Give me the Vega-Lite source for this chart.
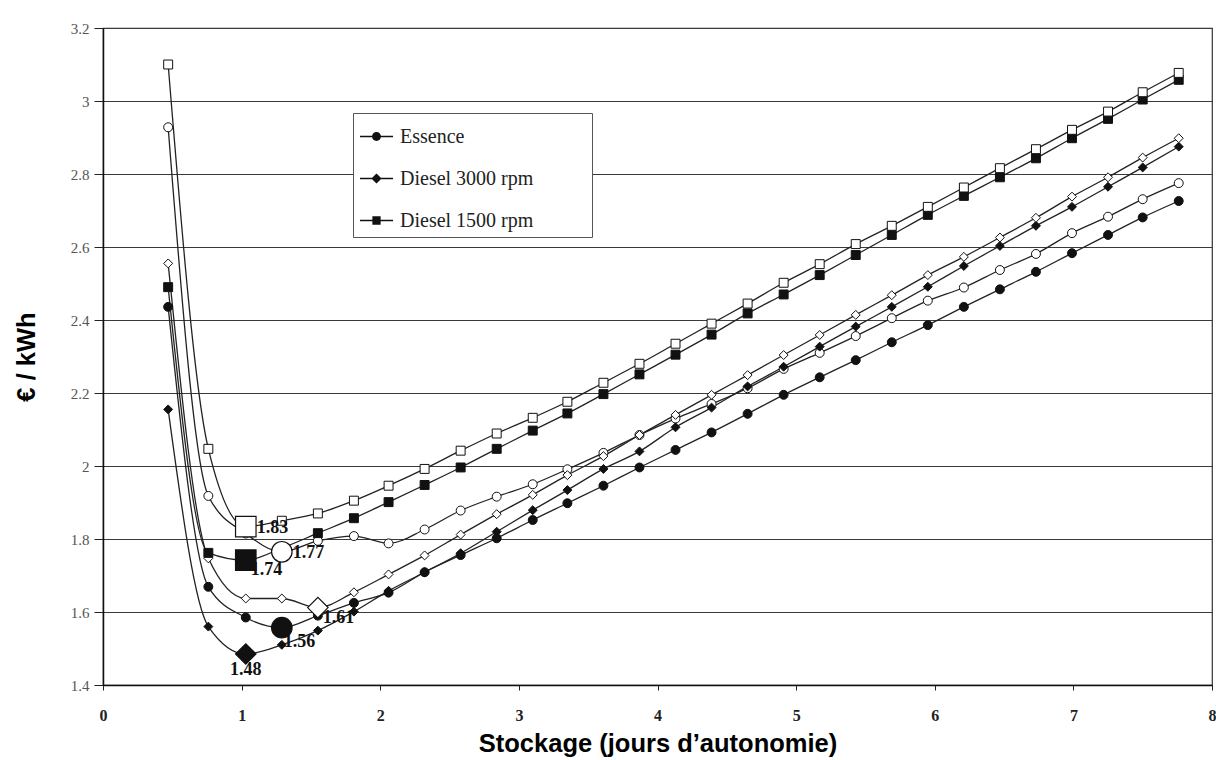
{
  "$schema": "https://vega.github.io/schema/vega-lite/v6.json",
  "width": 1109,
  "height": 657,
  "autosize": {"type": "none"},
  "padding": {"left": 103, "top": 28, "right": 4, "bottom": 75},
  "background": "#ffffff",
  "config": {
    "view": {"stroke": "#333", "strokeWidth": 1.2},
    "axis": {"domainColor": "#111", "domainWidth": 1.5, "tickColor": "#222", "labelFont": "Liberation Serif", "titleFont": "Liberation Sans", "titleFontWeight": "bold", "titleFontSize": 25.5, "titleColor": "#000"},
    "legend": {"labelFont": "Liberation Serif", "labelFontSize": 20, "labelColor": "#222"}
  },
  "resolve": {"scale": {"shape": "independent"}, "legend": {"shape": "independent"}},
  "datasets": {
    "series": [
      {"s":"Essence","f":"plein","x":0.47,"y":2.436},{"s":"Essence","f":"plein","x":0.76,"y":1.669},{"s":"Essence","f":"plein","x":1.03,"y":1.585},{"s":"Essence","f":"plein","x":1.29,"y":1.557},{"s":"Essence","f":"plein","x":1.55,"y":1.59},{"s":"Essence","f":"plein","x":1.81,"y":1.625},{"s":"Essence","f":"plein","x":2.06,"y":1.653},{"s":"Essence","f":"plein","x":2.32,"y":1.709},{"s":"Essence","f":"plein","x":2.58,"y":1.756},{"s":"Essence","f":"plein","x":2.84,"y":1.802},{"s":"Essence","f":"plein","x":3.1,"y":1.852},{"s":"Essence","f":"plein","x":3.35,"y":1.898},{"s":"Essence","f":"plein","x":3.61,"y":1.946},{"s":"Essence","f":"plein","x":3.87,"y":1.996},{"s":"Essence","f":"plein","x":4.13,"y":2.044},{"s":"Essence","f":"plein","x":4.39,"y":2.092},{"s":"Essence","f":"plein","x":4.65,"y":2.143},{"s":"Essence","f":"plein","x":4.91,"y":2.195},{"s":"Essence","f":"plein","x":5.17,"y":2.243},{"s":"Essence","f":"plein","x":5.43,"y":2.29},{"s":"Essence","f":"plein","x":5.69,"y":2.339},{"s":"Essence","f":"plein","x":5.95,"y":2.386},{"s":"Essence","f":"plein","x":6.21,"y":2.436},{"s":"Essence","f":"plein","x":6.47,"y":2.484},{"s":"Essence","f":"plein","x":6.73,"y":2.532},{"s":"Essence","f":"plein","x":6.99,"y":2.583},{"s":"Essence","f":"plein","x":7.25,"y":2.633},{"s":"Essence","f":"plein","x":7.5,"y":2.681},{"s":"Essence","f":"plein","x":7.76,"y":2.726},
      {"s":"Essence","f":"vide","x":0.47,"y":2.928},{"s":"Essence","f":"vide","x":0.76,"y":1.918},{"s":"Essence","f":"vide","x":1.03,"y":1.815},{"s":"Essence","f":"vide","x":1.29,"y":1.765},{"s":"Essence","f":"vide","x":1.55,"y":1.795},{"s":"Essence","f":"vide","x":1.81,"y":1.808},{"s":"Essence","f":"vide","x":2.06,"y":1.788},{"s":"Essence","f":"vide","x":2.32,"y":1.826},{"s":"Essence","f":"vide","x":2.58,"y":1.878},{"s":"Essence","f":"vide","x":2.84,"y":1.916},{"s":"Essence","f":"vide","x":3.1,"y":1.95},{"s":"Essence","f":"vide","x":3.35,"y":1.991},{"s":"Essence","f":"vide","x":3.61,"y":2.036},{"s":"Essence","f":"vide","x":3.87,"y":2.085},{"s":"Essence","f":"vide","x":4.13,"y":2.13},{"s":"Essence","f":"vide","x":4.39,"y":2.17},{"s":"Essence","f":"vide","x":4.65,"y":2.213},{"s":"Essence","f":"vide","x":4.91,"y":2.266},{"s":"Essence","f":"vide","x":5.17,"y":2.31},{"s":"Essence","f":"vide","x":5.43,"y":2.356},{"s":"Essence","f":"vide","x":5.69,"y":2.405},{"s":"Essence","f":"vide","x":5.95,"y":2.453},{"s":"Essence","f":"vide","x":6.21,"y":2.489},{"s":"Essence","f":"vide","x":6.47,"y":2.537},{"s":"Essence","f":"vide","x":6.73,"y":2.581},{"s":"Essence","f":"vide","x":6.99,"y":2.638},{"s":"Essence","f":"vide","x":7.25,"y":2.683},{"s":"Essence","f":"vide","x":7.5,"y":2.731},{"s":"Essence","f":"vide","x":7.76,"y":2.775},
      {"s":"Diesel 3000 rpm","f":"plein","x":0.47,"y":2.155},{"s":"Diesel 3000 rpm","f":"plein","x":0.76,"y":1.56},{"s":"Diesel 3000 rpm","f":"plein","x":1.03,"y":1.485},{"s":"Diesel 3000 rpm","f":"plein","x":1.29,"y":1.51},{"s":"Diesel 3000 rpm","f":"plein","x":1.55,"y":1.549},{"s":"Diesel 3000 rpm","f":"plein","x":1.81,"y":1.601},{"s":"Diesel 3000 rpm","f":"plein","x":2.06,"y":1.658},{"s":"Diesel 3000 rpm","f":"plein","x":2.32,"y":1.709},{"s":"Diesel 3000 rpm","f":"plein","x":2.58,"y":1.761},{"s":"Diesel 3000 rpm","f":"plein","x":2.84,"y":1.82},{"s":"Diesel 3000 rpm","f":"plein","x":3.1,"y":1.879},{"s":"Diesel 3000 rpm","f":"plein","x":3.35,"y":1.934},{"s":"Diesel 3000 rpm","f":"plein","x":3.61,"y":1.992},{"s":"Diesel 3000 rpm","f":"plein","x":3.87,"y":2.04},{"s":"Diesel 3000 rpm","f":"plein","x":4.13,"y":2.106},{"s":"Diesel 3000 rpm","f":"plein","x":4.39,"y":2.16},{"s":"Diesel 3000 rpm","f":"plein","x":4.65,"y":2.218},{"s":"Diesel 3000 rpm","f":"plein","x":4.91,"y":2.272},{"s":"Diesel 3000 rpm","f":"plein","x":5.17,"y":2.327},{"s":"Diesel 3000 rpm","f":"plein","x":5.43,"y":2.382},{"s":"Diesel 3000 rpm","f":"plein","x":5.69,"y":2.436},{"s":"Diesel 3000 rpm","f":"plein","x":5.95,"y":2.491},{"s":"Diesel 3000 rpm","f":"plein","x":6.21,"y":2.548},{"s":"Diesel 3000 rpm","f":"plein","x":6.47,"y":2.603},{"s":"Diesel 3000 rpm","f":"plein","x":6.73,"y":2.658},{"s":"Diesel 3000 rpm","f":"plein","x":6.99,"y":2.71},{"s":"Diesel 3000 rpm","f":"plein","x":7.25,"y":2.765},{"s":"Diesel 3000 rpm","f":"plein","x":7.5,"y":2.818},{"s":"Diesel 3000 rpm","f":"plein","x":7.76,"y":2.875},
      {"s":"Diesel 3000 rpm","f":"vide","x":0.47,"y":2.555},{"s":"Diesel 3000 rpm","f":"vide","x":0.76,"y":1.747},{"s":"Diesel 3000 rpm","f":"vide","x":1.03,"y":1.637},{"s":"Diesel 3000 rpm","f":"vide","x":1.29,"y":1.637},{"s":"Diesel 3000 rpm","f":"vide","x":1.55,"y":1.612},{"s":"Diesel 3000 rpm","f":"vide","x":1.81,"y":1.654},{"s":"Diesel 3000 rpm","f":"vide","x":2.06,"y":1.703},{"s":"Diesel 3000 rpm","f":"vide","x":2.32,"y":1.755},{"s":"Diesel 3000 rpm","f":"vide","x":2.58,"y":1.812},{"s":"Diesel 3000 rpm","f":"vide","x":2.84,"y":1.868},{"s":"Diesel 3000 rpm","f":"vide","x":3.1,"y":1.921},{"s":"Diesel 3000 rpm","f":"vide","x":3.35,"y":1.975},{"s":"Diesel 3000 rpm","f":"vide","x":3.61,"y":2.027},{"s":"Diesel 3000 rpm","f":"vide","x":3.87,"y":2.085},{"s":"Diesel 3000 rpm","f":"vide","x":4.13,"y":2.14},{"s":"Diesel 3000 rpm","f":"vide","x":4.39,"y":2.195},{"s":"Diesel 3000 rpm","f":"vide","x":4.65,"y":2.249},{"s":"Diesel 3000 rpm","f":"vide","x":4.91,"y":2.304},{"s":"Diesel 3000 rpm","f":"vide","x":5.17,"y":2.359},{"s":"Diesel 3000 rpm","f":"vide","x":5.43,"y":2.414},{"s":"Diesel 3000 rpm","f":"vide","x":5.69,"y":2.468},{"s":"Diesel 3000 rpm","f":"vide","x":5.95,"y":2.523},{"s":"Diesel 3000 rpm","f":"vide","x":6.21,"y":2.573},{"s":"Diesel 3000 rpm","f":"vide","x":6.47,"y":2.626},{"s":"Diesel 3000 rpm","f":"vide","x":6.73,"y":2.68},{"s":"Diesel 3000 rpm","f":"vide","x":6.99,"y":2.738},{"s":"Diesel 3000 rpm","f":"vide","x":7.25,"y":2.791},{"s":"Diesel 3000 rpm","f":"vide","x":7.5,"y":2.845},{"s":"Diesel 3000 rpm","f":"vide","x":7.76,"y":2.898},
      {"s":"Diesel 1500 rpm","f":"plein","x":0.47,"y":2.49},{"s":"Diesel 1500 rpm","f":"plein","x":0.76,"y":1.762},{"s":"Diesel 1500 rpm","f":"plein","x":1.03,"y":1.742},{"s":"Diesel 1500 rpm","f":"plein","x":1.29,"y":1.775},{"s":"Diesel 1500 rpm","f":"plein","x":1.55,"y":1.816},{"s":"Diesel 1500 rpm","f":"plein","x":1.81,"y":1.857},{"s":"Diesel 1500 rpm","f":"plein","x":2.06,"y":1.901},{"s":"Diesel 1500 rpm","f":"plein","x":2.32,"y":1.948},{"s":"Diesel 1500 rpm","f":"plein","x":2.58,"y":1.996},{"s":"Diesel 1500 rpm","f":"plein","x":2.84,"y":2.047},{"s":"Diesel 1500 rpm","f":"plein","x":3.1,"y":2.097},{"s":"Diesel 1500 rpm","f":"plein","x":3.35,"y":2.144},{"s":"Diesel 1500 rpm","f":"plein","x":3.61,"y":2.197},{"s":"Diesel 1500 rpm","f":"plein","x":3.87,"y":2.251},{"s":"Diesel 1500 rpm","f":"plein","x":4.13,"y":2.305},{"s":"Diesel 1500 rpm","f":"plein","x":4.39,"y":2.36},{"s":"Diesel 1500 rpm","f":"plein","x":4.65,"y":2.418},{"s":"Diesel 1500 rpm","f":"plein","x":4.91,"y":2.47},{"s":"Diesel 1500 rpm","f":"plein","x":5.17,"y":2.523},{"s":"Diesel 1500 rpm","f":"plein","x":5.43,"y":2.578},{"s":"Diesel 1500 rpm","f":"plein","x":5.69,"y":2.633},{"s":"Diesel 1500 rpm","f":"plein","x":5.95,"y":2.688},{"s":"Diesel 1500 rpm","f":"plein","x":6.21,"y":2.74},{"s":"Diesel 1500 rpm","f":"plein","x":6.47,"y":2.791},{"s":"Diesel 1500 rpm","f":"plein","x":6.73,"y":2.843},{"s":"Diesel 1500 rpm","f":"plein","x":6.99,"y":2.898},{"s":"Diesel 1500 rpm","f":"plein","x":7.25,"y":2.951},{"s":"Diesel 1500 rpm","f":"plein","x":7.5,"y":3.004},{"s":"Diesel 1500 rpm","f":"plein","x":7.76,"y":3.058},
      {"s":"Diesel 1500 rpm","f":"vide","x":0.47,"y":3.1},{"s":"Diesel 1500 rpm","f":"vide","x":0.76,"y":2.047},{"s":"Diesel 1500 rpm","f":"vide","x":1.03,"y":1.834},{"s":"Diesel 1500 rpm","f":"vide","x":1.29,"y":1.85},{"s":"Diesel 1500 rpm","f":"vide","x":1.55,"y":1.87},{"s":"Diesel 1500 rpm","f":"vide","x":1.81,"y":1.905},{"s":"Diesel 1500 rpm","f":"vide","x":2.06,"y":1.946},{"s":"Diesel 1500 rpm","f":"vide","x":2.32,"y":1.992},{"s":"Diesel 1500 rpm","f":"vide","x":2.58,"y":2.042},{"s":"Diesel 1500 rpm","f":"vide","x":2.84,"y":2.089},{"s":"Diesel 1500 rpm","f":"vide","x":3.1,"y":2.132},{"s":"Diesel 1500 rpm","f":"vide","x":3.35,"y":2.176},{"s":"Diesel 1500 rpm","f":"vide","x":3.61,"y":2.228},{"s":"Diesel 1500 rpm","f":"vide","x":3.87,"y":2.28},{"s":"Diesel 1500 rpm","f":"vide","x":4.13,"y":2.335},{"s":"Diesel 1500 rpm","f":"vide","x":4.39,"y":2.39},{"s":"Diesel 1500 rpm","f":"vide","x":4.65,"y":2.445},{"s":"Diesel 1500 rpm","f":"vide","x":4.91,"y":2.502},{"s":"Diesel 1500 rpm","f":"vide","x":5.17,"y":2.553},{"s":"Diesel 1500 rpm","f":"vide","x":5.43,"y":2.608},{"s":"Diesel 1500 rpm","f":"vide","x":5.69,"y":2.658},{"s":"Diesel 1500 rpm","f":"vide","x":5.95,"y":2.71},{"s":"Diesel 1500 rpm","f":"vide","x":6.21,"y":2.763},{"s":"Diesel 1500 rpm","f":"vide","x":6.47,"y":2.816},{"s":"Diesel 1500 rpm","f":"vide","x":6.73,"y":2.868},{"s":"Diesel 1500 rpm","f":"vide","x":6.99,"y":2.921},{"s":"Diesel 1500 rpm","f":"vide","x":7.25,"y":2.971},{"s":"Diesel 1500 rpm","f":"vide","x":7.5,"y":3.024},{"s":"Diesel 1500 rpm","f":"vide","x":7.76,"y":3.077}
    ],
    "minima": [
      {"s":"Diesel 1500 rpm","f":"vide","x":1.03,"y":1.834,"t":"1.83"},
      {"s":"Essence","f":"vide","x":1.29,"y":1.765,"t":"1.77"},
      {"s":"Diesel 1500 rpm","f":"plein","x":1.03,"y":1.742,"t":"1.74"},
      {"s":"Diesel 3000 rpm","f":"vide","x":1.55,"y":1.612,"t":"1.61"},
      {"s":"Essence","f":"plein","x":1.29,"y":1.557,"t":"1.56"},
      {"s":"Diesel 3000 rpm","f":"plein","x":1.03,"y":1.485,"t":"1.48"}
    ],
    "legende": []
  },
  "encoding": {
    "x": {"field": "x", "type": "quantitative",
      "scale": {"domain": [0, 8], "nice": false, "zero": false},
      "axis": {"values": [0,1,2,3,4,5,6,7,8], "title": "Stockage (jours d’autonomie)", "grid": false, "labelFontSize": 16, "labelFontWeight": "bold", "labelColor": "#222", "tickSize": 5, "labelPadding": 17, "titlePadding": 8, "labelFlush": false}},
    "y": {"field": "y", "type": "quantitative",
      "scale": {"domain": [1.4, 3.2], "nice": false, "zero": false},
      "axis": {"values": [1.4,1.6,1.8,2,2.2,2.4,2.6,2.8,3,3.2], "format": "~g", "title": "€ / kWh", "grid": true, "gridColor": "#3a3a3a", "gridWidth": 1.2, "labelFontSize": 15, "labelColor": "#555", "tickSize": 9, "labelPadding": 5, "titlePadding": 31}}
  },
  "layer": [
    {
      "data": {"name": "series"},
      "mark": {"type": "line", "color": "#222", "strokeWidth": 1.3, "interpolate": "monotone"},
      "encoding": {"detail": [{"field": "s"}, {"field": "f"}]}
    },
    {
      "data": {"name": "legende"},
      "mark": {"type": "point", "filled": true, "opacity": 1, "color": "#111", "stroke": "#111", "strokeWidth": 1},
      "encoding": {
        "shape": {"field": "s", "type": "nominal",
          "scale": {"domain": ["Essence", "Diesel 3000 rpm", "Diesel 1500 rpm"],
            "range": ["M-1,-0.045H1V0.045H-1ZM-0.27,0A0.27,0.27,0,1,1,0.27,0A0.27,0.27,0,1,1,-0.27,0Z", "M-1,-0.045H1V0.045H-1ZM-0.31,0L0,-0.31L0.31,0L0,0.31Z", "M-1,-0.045H1V0.045H-1ZM-0.25,-0.25H0.25V0.25H-0.25Z"]},
          "legend": {"title": "\u00a0", "titleOrient": "right", "titlePadding": 53, "orient": "none", "legendX": 250, "legendY": 85, "direction": "vertical",
            "fillColor": "#ffffff", "strokeColor": "#555", "padding": 6, "symbolSize": 1090, "rowPadding": 14, "labelOffset": 6, "labelLimit": 400,
            "symbolFillColor": "#111", "symbolStrokeColor": "#111", "symbolStrokeWidth": 1}}
      }
    },
    {
      "data": {"name": "series"},
      "mark": {"type": "point", "filled": true, "opacity": 1, "stroke": "#111", "strokeWidth": 1, "size": 80},
      "encoding": {
        "shape": {"field": "s", "type": "nominal",
          "scale": {"domain": ["Essence", "Diesel 3000 rpm", "Diesel 1500 rpm"], "range": ["circle", "diamond", "square"]},
          "legend": null},
        "fill": {"field": "f", "type": "nominal", "scale": {"domain": ["plein", "vide"], "range": ["#111111", "#ffffff"]}, "legend": null}
      }
    },
    {
      "data": {"name": "minima"},
      "transform": [{"filter": "datum.t === '1.83' || datum.t === '1.77'"}],
      "mark": {"type": "text", "align": "left", "baseline": "middle", "dx": 11, "dy": 1, "font": "Liberation Serif", "fontWeight": "bold", "fontSize": 18, "color": "#111"},
      "encoding": {"text": {"field": "t"}}
    },
    {
      "data": {"name": "minima"},
      "transform": [{"filter": "datum.t === '1.74' || datum.t === '1.61'"}],
      "mark": {"type": "text", "align": "left", "baseline": "middle", "dx": 5, "dy": 10, "font": "Liberation Serif", "fontWeight": "bold", "fontSize": 18, "color": "#111"},
      "encoding": {"text": {"field": "t"}}
    },
    {
      "data": {"name": "minima"},
      "transform": [{"filter": "datum.t === '1.56'"}],
      "mark": {"type": "text", "align": "left", "baseline": "middle", "dx": 2, "dy": 14, "font": "Liberation Serif", "fontWeight": "bold", "fontSize": 18, "color": "#111"},
      "encoding": {"text": {"field": "t"}}
    },
    {
      "data": {"name": "minima"},
      "transform": [{"filter": "datum.t === '1.48'"}],
      "mark": {"type": "text", "align": "center", "baseline": "middle", "dx": 0, "dy": 16, "font": "Liberation Serif", "fontWeight": "bold", "fontSize": 18, "color": "#111"},
      "encoding": {"text": {"field": "t"}}
    },
    {
      "data": {"name": "minima"},
      "mark": {"type": "point", "filled": true, "opacity": 1, "stroke": "#111", "strokeWidth": 1.2, "size": 420},
      "encoding": {
        "shape": {"field": "s", "type": "nominal", "scale": {"domain": ["Essence", "Diesel 3000 rpm", "Diesel 1500 rpm"], "range": ["circle", "diamond", "square"]}, "legend": null},
        "fill": {"field": "f", "type": "nominal", "scale": {"domain": ["plein", "vide"], "range": ["#111111", "#ffffff"]}, "legend": null}
      }
    }
  ]
}
